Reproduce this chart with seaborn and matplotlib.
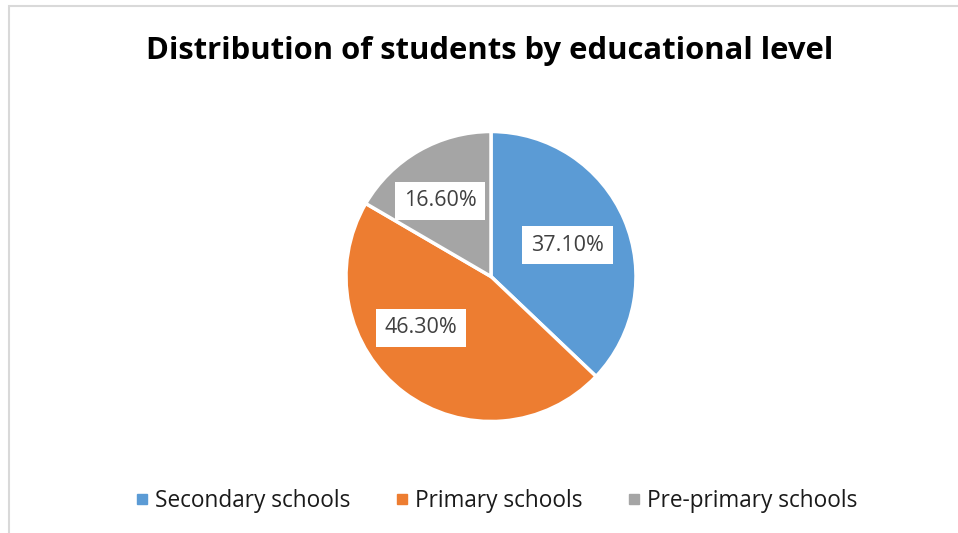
import matplotlib
matplotlib.use("Agg")
import matplotlib.pyplot as plt
from matplotlib.lines import Line2D
from matplotlib.patches import Rectangle
import seaborn as sns
import numpy as np

# Share of students per level of education (%)
levels = ["Secondary schools", "Primary schools", "Pre-primary schools"]
shares = [37.1, 46.3, 16.6]
colors = ["#5B9BD5", "#ED7D31", "#A5A5A5"]
title = "Distribution of students by educational level"

# label placement inside each wedge: (angle offset from wedge centre in degrees, radial distance)
label_offsets = [(-1.0, 0.57), (-17.0, 0.60), (4.0, 0.63)]

sns.set_theme(style="white")
plt.rcParams["font.family"] = ["Open Sans", "DejaVu Sans"]

W, H = 958, 533
fig = plt.figure(figsize=(W / 100, H / 100), dpi=100)
fig.patch.set_facecolor("white")

# light chart-area frame
fig.add_artist(Rectangle((9 / W, -0.05), 1.2, 1 - 6 / H + 0.05,
                         transform=fig.transFigure, fill=False,
                         edgecolor="#D9D9D9", linewidth=1.5))

cx, cy, r = 491, 276.5, 145
ax = fig.add_axes([(cx - r) / W, (H - cy - r) / H, 2 * r / W, 2 * r / H])

wedges, _ = ax.pie(shares, colors=colors, startangle=90, counterclock=False,
                   wedgeprops=dict(edgecolor="white", linewidth=2.5))
ax.set_xlim(-1, 1)
ax.set_ylim(-1, 1)
ax.set_aspect("equal")
ax.axis("off")

for w, val, (dang, dist) in zip(wedges, shares, label_offsets):
    mid = np.deg2rad((w.theta1 + w.theta2) / 2 + dang)
    ax.text(dist * np.cos(mid), dist * np.sin(mid), f"{val:.2f}%",
            ha="center", va="center", fontsize=15.5, color="#404040",
            bbox=dict(boxstyle="square,pad=0.4", facecolor="white", edgecolor="none"))

fig.text(490 / W, 1 - 51 / H, title, ha="center", va="center",
         fontsize=22.3, fontweight="bold", color="black")

handles = [Line2D([], [], marker="s", linestyle="none", markersize=7,
                  markerfacecolor=c, markeredgecolor=c) for c in colors]
fig.legend(handles, levels, loc="center", bbox_to_anchor=(497 / W, 1 - 501 / H),
           ncol=3, frameon=False, fontsize=16.3, handlelength=0.5,
           handletextpad=0.35, columnspacing=2.0, labelcolor="#1a1a1a")

fig.savefig("out.png", dpi=100, facecolor="white")
